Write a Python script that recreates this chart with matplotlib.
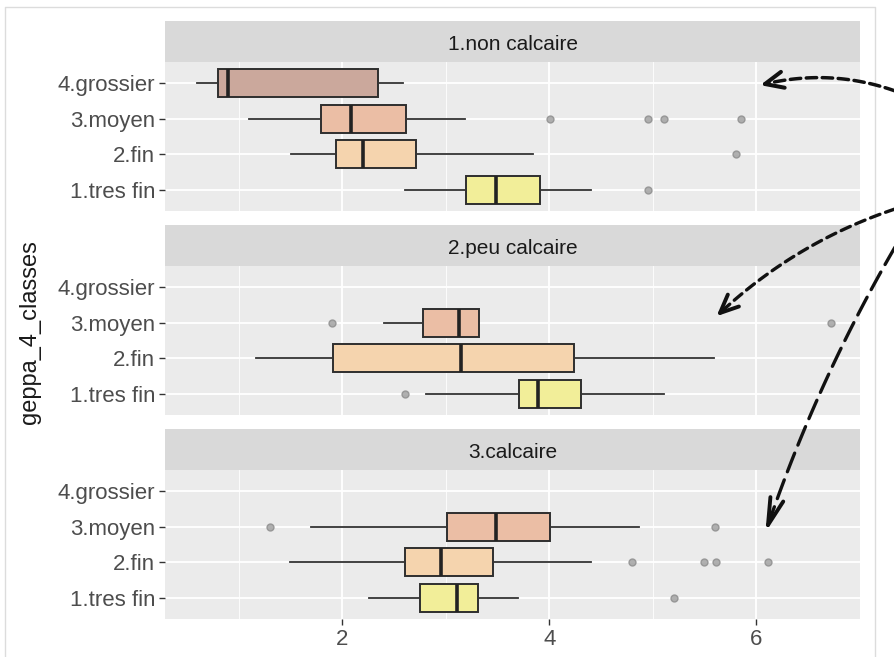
import numpy as np
import matplotlib
matplotlib.use("Agg")
import matplotlib.pyplot as plt

plt.rcParams['font.family'] = ['Liberation Sans', 'DejaVu Sans']

# categories (bottom to top) and facets
classes = ["1.tres fin", "2.fin", "3.moyen", "4.grossier"]
facets = ["1.non calcaire", "2.peu calcaire", "3.calcaire"]
fills = ["#f2ee99", "#f5d4ae", "#ebbea5", "#cba89c"]

# box statistics, [facet][class]; None = no data
whislo = [[2.61, 1.51, 1.10, 0.60],
          [2.81, 1.17, 2.40, None],
          [2.26, 1.50, 1.70, None]]
q1 = [[3.20, 1.94, 1.80, 0.80],
      [3.71, 1.91, 2.78, None],
      [2.75, 2.61, 3.01, None]]
med = [[3.49, 2.20, 2.09, 0.90],
       [3.89, 3.15, 3.13, None],
       [3.11, 2.95, 3.49, None]]
q3 = [[3.91, 2.71, 2.62, 2.35],
      [4.31, 4.24, 3.32, None],
      [3.31, 3.46, 4.01, None]]
whishi = [[4.40, 3.84, 3.19, 2.59],
          [5.11, 5.59, 3.32, None],
          [3.70, 4.40, 4.87, None]]
fliers = [[[4.95], [5.80], [4.01, 4.95, 5.11, 5.85], []],
          [[2.61], [], [1.90, 6.72], []],
          [[5.20], [4.80, 5.49, 5.61, 6.11], [1.30, 5.60], []]]

x_ticks = [2, 4, 6]

W, H = 894, 657
fig = plt.figure(figsize=(W / 100, H / 100), dpi=100)
fig.patch.set_facecolor("white")

left_px, right_px = 165, 860
strip_h, panel_h, gap = 41, 149, 14
top0 = 21


def fx(px):
    return px / W


def fy(py):
    return 1 - py / H


for i, facet in enumerate(facets):
    s_top = top0 + i * (strip_h + panel_h + gap)
    p_top = s_top + strip_h
    p_bot = p_top + panel_h

    # strip
    sax = fig.add_axes([fx(left_px), fy(p_top), fx(right_px - left_px), strip_h / H])
    sax.set_facecolor("#d9d9d9")
    sax.set_xticks([])
    sax.set_yticks([])
    for sp in sax.spines.values():
        sp.set_visible(False)
    sax.text(0.5, 0.42, facet, ha="center", va="center", fontsize=15,
             color="#1a1a1a", transform=sax.transAxes)

    ax = fig.add_axes([fx(left_px), fy(p_bot), fx(right_px - left_px), panel_h / H])
    ax.set_facecolor("#ebebeb")
    for sp in ax.spines.values():
        sp.set_visible(False)

    stats, pos, cols = [], [], []
    for j in range(len(classes)):
        if med[i][j] is None:
            continue
        stats.append(dict(whislo=whislo[i][j], q1=q1[i][j], med=med[i][j],
                          q3=q3[i][j], whishi=whishi[i][j], fliers=fliers[i][j]))
        pos.append(j + 1)
        cols.append(fills[j])

    bp = ax.bxp(stats, positions=pos, widths=0.78, orientation="horizontal",
                patch_artist=True, showcaps=False,
                boxprops=dict(edgecolor="#2e2e2e", linewidth=1.4),
                medianprops=dict(color="#222222", linewidth=2.6),
                whiskerprops=dict(color="#333333", linewidth=1.3),
                flierprops=dict(marker="o", markersize=5, markerfacecolor="#a3a3a3",
                                markeredgecolor="#8f8f8f", alpha=0.85))
    for patch, c in zip(bp["boxes"], cols):
        patch.set_facecolor(c)

    ax.set_xlim(0.29, 7.0)
    ax.set_ylim(0.4, 4.6)
    ax.set_xticks(x_ticks)
    ax.set_xticks([1, 3, 5, 7], minor=True)
    ax.set_yticks(range(1, len(classes) + 1))
    ax.set_yticklabels(classes)
    ax.grid(True, which="major", color="white", linewidth=1.3)
    ax.grid(True, which="minor", axis="x", color="white", linewidth=0.6)
    ax.set_axisbelow(True)
    ax.tick_params(axis="y", length=4, width=1, color="#333333",
                   labelsize=16, labelcolor="#4d4d4d", pad=3)
    ax.tick_params(axis="x", which="minor", length=0)
    if i == len(facets) - 1:
        ax.tick_params(axis="x", which="major", length=4, width=1, color="#333333",
                       labelsize=16, labelcolor="#4d4d4d", pad=3)
    else:
        ax.tick_params(axis="x", which="major", length=0, labelbottom=False)

fig.text(fx(30), fy(332), "geppa_4_classes", rotation=90, ha="center", va="center",
         fontsize=17, color="#1a1a1a")

# overlay in pixel coordinates for the screenshot frame and hand-drawn arrows
ov = fig.add_axes([0, 0, 1, 1], zorder=10)
ov.set_xlim(0, W)
ov.set_ylim(H, 0)
ov.axis("off")
ov.plot([5, 5, 875, 875], [H + 5, 7, 7, H + 5], color="#dcdcdc", lw=1)


def curved_arrow(p0, p2, rad, dash, lw, head=18, spread=24):
    p0 = np.array(p0, float)
    p2 = np.array(p2, float)
    d = p2 - p0
    mid = (p0 + p2) / 2
    # perpendicular in screen coordinates (y down)
    ctrl = mid + rad * np.array([d[1], -d[0]]) * -1
    t = np.linspace(0, 1, 80)[:, None]
    pts = (1 - t) ** 2 * p0 + 2 * (1 - t) * t * ctrl + t ** 2 * p2
    ov.plot(pts[:, 0], pts[:, 1], color="#111111", lw=lw,
            linestyle=(0, dash), solid_capstyle="round", dash_capstyle="round")
    tang = p2 - ctrl
    ang = np.arctan2(tang[1], tang[0])
    for s in (-1, 1):
        a = ang + np.pi + s * np.radians(spread)
        ov.plot([p2[0], p2[0] + head * np.cos(a)], [p2[1], p2[1] + head * np.sin(a)],
                color="#111111", lw=lw + 0.4, solid_capstyle="round")


curved_arrow((898, 92), (765, 84), 0.15, (3, 1.6), 2.5, head=20)
curved_arrow((898, 208), (720, 313), 0.11, (3, 1.8), 2.4, head=20)
curved_arrow((898, 242), (768, 525), 0.05, (6, 2.6), 2.4, head=28, spread=14)

fig.savefig("out.png", dpi=100)
